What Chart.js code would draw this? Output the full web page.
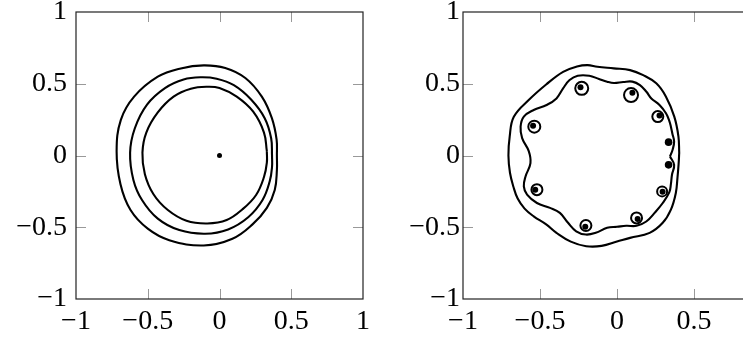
<!DOCTYPE html>
<html>
<head>
<meta charset="utf-8">
<script src="https://cdn.jsdelivr.net/npm/chart.js@4.4.0/dist/chart.umd.min.js"></script>
<style>
  html, body { margin: 0; padding: 0; background: #fff; }
  #wrap { position: relative; width: 743px; height: 339px; overflow: hidden; }
  #left { position: absolute; left: 0; top: 0; width: 380px; height: 339px; }
  #right { position: absolute; left: 380px; top: 0; width: 400px; height: 339px; }
</style>
</head>
<body>
<div id="wrap">
  <div id="left"><canvas id="c1"></canvas></div>
  <div id="right"><canvas id="c2"></canvas></div>
</div>
<script>
// tick labels, same on both axes of both panels
const tickValues = [-1, -0.5, 0, 0.5, 1];

// left panel: three level curves around a single point
const leftPoint = [[0, 0]];
const leftInner = [
  [0.33, 0.03], [0.31, 0.16], [0.235, 0.305], [0.12, 0.41], [0.0, 0.47], [-0.085, 0.479],
  [-0.2, 0.465], [-0.32, 0.41], [-0.43, 0.3], [-0.51, 0.16], [-0.537, 0.02], [-0.52, -0.13],
  [-0.46, -0.27], [-0.36, -0.38], [-0.23, -0.455], [-0.085, -0.474], [0.05, -0.45],
  [0.16, -0.375], [0.255, -0.275], [0.31, -0.15], [0.33, -0.05], [0.33, 0.03]
];
const leftMiddle = [
  [0.366, 0.0], [0.36, 0.12], [0.315, 0.26], [0.22, 0.39], [0.1, 0.49], [-0.02, 0.535],
  [-0.13, 0.545], [-0.25, 0.53], [-0.38, 0.47], [-0.505, 0.355], [-0.59, 0.19], [-0.623, 0.02],
  [-0.6, -0.17], [-0.54, -0.31], [-0.43, -0.44], [-0.28, -0.52], [-0.1, -0.545],
  [0.06, -0.515], [0.2, -0.43], [0.3, -0.31], [0.35, -0.18], [0.366, -0.08], [0.366, 0.0]
];
const leftOuter = [
  [0.4, 0.0], [0.398, 0.11], [0.365, 0.26], [0.295, 0.41], [0.18, 0.54], [0.04, 0.61],
  [-0.11, 0.628], [-0.27, 0.607], [-0.43, 0.549], [-0.595, 0.41], [-0.6875, 0.248], [-0.717, 0.03],
  [-0.69, -0.2], [-0.62, -0.38], [-0.5, -0.51], [-0.35, -0.59], [-0.11, -0.627],
  [0.09, -0.58], [0.23, -0.48], [0.33, -0.365], [0.385, -0.24], [0.4, -0.1], [0.4, 0.0]
];

// right panel: ten points, small loops around them, two wavy curves
const rightPoints = [
  [-0.237, 0.475], [0.1, 0.437], [0.276, 0.278], [0.335, 0.093], [0.335, -0.065],
  [0.296, -0.252], [0.134, -0.442], [-0.206, -0.497], [-0.531, -0.238], [-0.545, 0.208]
];
const rightLoops = [
  [-0.229, 0.468], [0.091, 0.421], [0.265, 0.271], [0.293, -0.25],
  [0.127, -0.435], [-0.202, -0.488], [-0.52, -0.238], [-0.537, 0.201]
];
const rightInner = [
  [0.344, -0.007], [0.361, 0.04], [0.371, 0.097], [0.36, 0.15], [0.35, 0.2], [0.34, 0.24],
  [0.318, 0.294], [0.276, 0.352], [0.223, 0.398], [0.191, 0.444], [0.149, 0.491], [0.1, 0.515],
  [0.04, 0.512], [-0.02, 0.505], [-0.064, 0.514], [-0.117, 0.533], [-0.18, 0.556], [-0.255, 0.556],
  [-0.308, 0.526], [-0.35, 0.468], [-0.393, 0.398], [-0.457, 0.352], [-0.541, 0.317], [-0.605, 0.271],
  [-0.626, 0.201], [-0.616, 0.121], [-0.573, 0.03], [-0.562, -0.053], [-0.594, -0.146], [-0.605, -0.215],
  [-0.584, -0.273], [-0.52, -0.331], [-0.435, -0.365], [-0.371, -0.4], [-0.318, -0.469], [-0.265, -0.528],
  [-0.202, -0.551], [-0.138, -0.539], [-0.064, -0.504], [0.0, -0.497], [0.06, -0.49], [0.127, -0.49],
  [0.19, -0.46], [0.244, -0.4], [0.297, -0.331], [0.34, -0.255], [0.35, -0.2], [0.357, -0.134],
  [0.371, -0.065], [0.344, -0.007]
];
const rightOuter = [
  [0.404, 0.017], [0.399, 0.132], [0.372, 0.271], [0.318, 0.41], [0.255, 0.503], [0.17, 0.56],
  [0.085, 0.595], [-0.021, 0.607], [-0.127, 0.618], [-0.191, 0.63], [-0.26, 0.62], [-0.35, 0.583],
  [-0.46, 0.495], [-0.57, 0.39], [-0.67, 0.27], [-0.697, 0.13], [-0.705, 0.0], [-0.695, -0.12],
  [-0.672, -0.22], [-0.645, -0.3], [-0.6, -0.37], [-0.541, -0.424], [-0.46, -0.48], [-0.393, -0.539],
  [-0.3, -0.6], [-0.2, -0.632], [-0.1, -0.63], [0.0, -0.6], [0.085, -0.574], [0.212, -0.539],
  [0.297, -0.469], [0.35, -0.377], [0.382, -0.261], [0.393, -0.15], [0.4, -0.06], [0.404, 0.017]
];

const toXY = arr => arr.map(p => ({ x: p[0], y: p[1] }));
const fmt = v => (v < 0 ? '\u2212' + Math.abs(v) : String(v));
const font = { family: "'Liberation Serif', 'Times New Roman', serif", size: 28 };

const curve = data => ({
  data: toXY(data), showLine: true, tension: 0.4, pointRadius: 0,
  borderColor: '#000', borderWidth: 2.1, fill: false
});
const dots = (data, r) => ({
  data: toXY(data), showLine: false, pointRadius: r, pointHoverRadius: r,
  pointBackgroundColor: '#000', pointBorderWidth: 0
});
const loops = (data, r) => ({
  data: toXY(data), showLine: false, pointRadius: r, pointHoverRadius: r,
  pointBackgroundColor: 'rgba(0,0,0,0)', pointBorderColor: '#000', pointBorderWidth: 2
});

// inward ticks on all four sides + frame
const framePlugin = {
  id: 'frame',
  afterDatasetsDraw(chart) {
    const { ctx, chartArea: a, scales } = chart;
    const len = 10;
    ctx.save();
    ctx.strokeStyle = '#999';
    ctx.lineWidth = 1;
    ctx.beginPath();
    scales.x.ticks.forEach(t => {
      if (Math.abs(t.value) === 1) return;
      const px = Math.round(scales.x.getPixelForValue(t.value)) + 0.5;
      ctx.moveTo(px, a.bottom); ctx.lineTo(px, a.bottom - len);
      ctx.moveTo(px, a.top); ctx.lineTo(px, a.top + len);
    });
    scales.y.ticks.forEach(t => {
      if (Math.abs(t.value) === 1) return;
      const py = Math.round(scales.y.getPixelForValue(t.value)) + 0.5;
      ctx.moveTo(a.left, py); ctx.lineTo(a.left + len, py);
      ctx.moveTo(a.right, py); ctx.lineTo(a.right - len, py);
    });
    ctx.stroke();
    ctx.strokeStyle = '#222';
    ctx.lineWidth = 1.2;
    ctx.strokeRect(a.left, a.top, a.right - a.left, a.bottom - a.top);
    ctx.restore();
  }
};

function axis(isY, size, pad) {
  return {
    type: 'linear', min: -1, max: 1,
    grid: { display: false, drawTicks: false },
    border: { display: false },
    afterBuildTicks: s => { s.ticks = tickValues.map(v => ({ value: v })); },
    afterFit: s => {
      if (isY) s.width = size; else s.height = size;
      s.paddingTop = 0; s.paddingBottom = 0; s.paddingLeft = 0; s.paddingRight = 0;
    },
    ticks: {
      color: '#000', font: font, padding: pad, autoSkip: false, maxRotation: 0,
      callback: v => fmt(v)
    }
  };
}

function makeChart(id, datasets, yWidth, yPad, padRight) {
  return new Chart(document.getElementById(id), {
    type: 'scatter',
    data: { datasets: datasets },
    options: {
      responsive: true, maintainAspectRatio: false, animation: false, events: [],
      layout: { padding: { left: 0, right: padRight, top: 12, bottom: 0 } },
      plugins: { legend: { display: false }, tooltip: { enabled: false } },
      scales: { x: axis(false, 40, 6), y: axis(true, yWidth, yPad) }
    },
    plugins: [framePlugin]
  });
}

makeChart('c1', [
  curve(leftInner), curve(leftMiddle), curve(leftOuter), dots(leftPoint, 2.5)
], 76, 9, 17);

makeChart('c2', [
  curve(rightInner), curve(rightOuter),
  loops(rightLoops, [6.5, 7, 5.5, 5, 5.5, 5.5, 5.5, 6]),
  dots(rightPoints, [3, 3, 3, 3.8, 3.8, 3, 3, 3, 3, 3])
], 83, 3, 3);
</script>
</body>
</html>
